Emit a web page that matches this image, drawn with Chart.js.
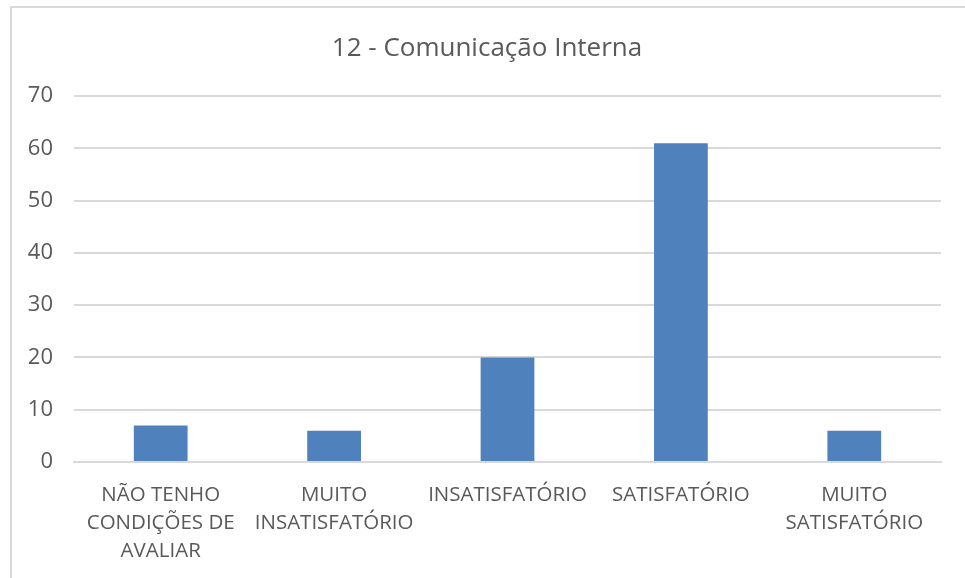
<!DOCTYPE html>
<html>
<head>
<meta charset="utf-8">
<script src="https://cdn.jsdelivr.net/npm/chart.js@4"></script>
<style>
  body { margin: 0; background: #fff; }
  #frame { position: absolute; left: 10px; top: 6px; width: 980px; height: 600px; border: 2px solid #d9d9d9; box-sizing: border-box; }
  #wrap { position: absolute; left: 0; top: 0; width: 965px; height: 578px; }
</style>
</head>
<body>
<div id="frame"></div>
<div id="wrap"><canvas id="mycanvas"></canvas></div>
<script>
var categorias = [
	["NÃO TENHO", "CONDIÇÕES DE", "AVALIAR"],
	["MUITO", "INSATISFATÓRIO"],
	"INSATISFATÓRIO",
	"SATISFATÓRIO",
	["MUITO", "SATISFATÓRIO"]
];
var respostas = [7, 6, 20, 61, 6];
var titulo = "12 - Comunicação Interna";

var chartdata = {
	labels: categorias,
	datasets: [
		{
			label: titulo,
			backgroundColor: '#4f81bd',
			borderWidth: 0,
			barPercentage: 0.31,
			categoryPercentage: 1,
			data: respostas
		}
	]
};

var ctx = document.getElementById("mycanvas");

var barGraph = new Chart(ctx, {
	type: 'bar',
	data: chartdata,
	options: {
		responsive: true,
		maintainAspectRatio: false,
		animation: false,
		// left padding centres the title on the frame; the empty right axis keeps the gap on the right
		layout: { padding: { left: 9, right: 0, top: 0, bottom: 0 } },
		plugins: {
			legend: { display: false },
			tooltip: { enabled: false },
			title: {
				display: true,
				text: titulo,
				color: '#595959',
				font: { family: 'Open Sans', size: 26, weight: 'normal' },
				padding: { top: 33, bottom: 32 }
			}
		},
		scales: {
			x: {
				grid: { display: false, drawTicks: false },
				border: { display: true, color: '#d9d9d9', width: 2 },
				ticks: {
					color: '#595959',
					font: { family: 'Open Sans', size: 20.5, lineHeight: 1.37 },
					padding: 19,
					maxRotation: 0,
					autoSkip: false
				},
				afterFit: function(scale) { scale.height = 578 - 462; }
			},
			y: {
				min: 0,
				max: 70,
				grid: { color: '#d9d9d9', lineWidth: 2, drawTicks: false },
				border: { display: false },
				ticks: {
					stepSize: 10,
					color: '#595959',
					font: { family: 'Open Sans', size: 22 },
					padding: 21
				},
				afterFit: function(scale) { scale.width = 74 - 9; }
			},
			yRight: {
				position: 'right',
				min: 0,
				max: 70,
				grid: { display: false, drawTicks: false },
				border: { display: false },
				ticks: { display: false },
				afterFit: function(scale) { scale.width = 965 - 941; }
			}
		}
	}
});
</script>
</body>
</html>
